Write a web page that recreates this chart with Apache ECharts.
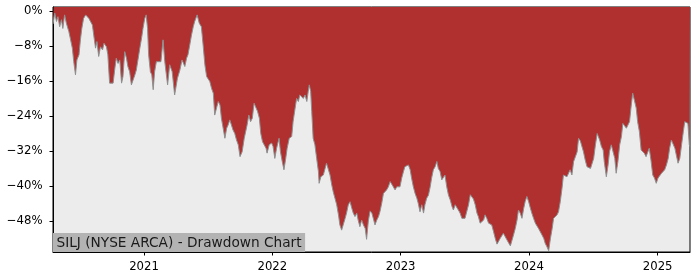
<!DOCTYPE html>
<html>
<head>
<meta charset="utf-8">
<script src="https://cdn.jsdelivr.net/npm/echarts@6/dist/echarts.min.js"></script>
<style>html,body{margin:0;padding:0;background:#fff;}#chart{width:700px;height:280px;}</style>
</head>
<body>
<div id="chart"></div>
<script>
const chartTitle = 'SILJ (NYSE ARCA) - Drawdown Chart';
const yTicks = [0, -8, -16, -24, -32, -40, -48];
const xTickYears = [2021, 2022, 2023, 2024, 2025];
const xRange = ['2020-04-17', '2025-04-03'];
const yRange = [-55.1, 0.9];

const dates = [
'2020-04-17','2020-04-19','2020-04-22','2020-04-27','2020-05-01','2020-05-06','2020-05-11','2020-05-15','2020-05-20','2020-05-25',
'2020-05-30','2020-06-01','2020-06-05','2020-06-11','2020-06-15','2020-06-20','2020-06-24','2020-06-30','2020-07-04','2020-07-08',
'2020-07-13','2020-07-19','2020-07-23','2020-07-28','2020-08-01','2020-08-07','2020-08-12','2020-08-16','2020-08-20','2020-08-25',
'2020-08-30','2020-09-05','2020-09-09','2020-09-16','2020-09-20','2020-09-25','2020-09-30','2020-10-05','2020-10-10','2020-10-14',
'2020-10-19','2020-10-24','2020-10-29','2020-11-02','2020-11-07','2020-11-12','2020-11-16','2020-11-21','2020-11-26','2020-12-01',
'2020-12-06','2020-12-10','2020-12-15','2020-12-20','2020-12-25','2020-12-29',
'2021-01-03','2021-01-07','2021-01-11','2021-01-14','2021-01-19','2021-01-23','2021-01-27','2021-01-31','2021-02-05','2021-02-10',
'2021-02-18','2021-02-24','2021-03-01','2021-03-09','2021-03-15','2021-03-22','2021-03-29','2021-04-06','2021-04-13','2021-04-19',
'2021-04-27','2021-05-02','2021-05-06','2021-05-11','2021-05-16','2021-05-21','2021-05-25','2021-06-01','2021-06-07','2021-06-13',
'2021-06-18','2021-06-23','2021-06-28','2021-07-02','2021-07-07','2021-07-12','2021-07-17','2021-07-21','2021-07-26','2021-07-31',
'2021-08-05','2021-08-09','2021-08-14','2021-08-19','2021-08-24','2021-08-28','2021-09-02','2021-09-07','2021-09-11','2021-09-16',
'2021-09-21','2021-09-26','2021-10-01','2021-10-03','2021-10-07','2021-10-13','2021-10-17','2021-10-21','2021-10-26','2021-10-31',
'2021-11-05','2021-11-10','2021-11-15','2021-11-20','2021-11-25','2021-11-29','2021-12-04','2021-12-08','2021-12-14','2021-12-17',
'2021-12-23','2021-12-30',
'2022-01-03','2022-01-08','2022-01-13','2022-01-20','2022-01-24','2022-01-29','2022-02-03','2022-02-08','2022-02-12','2022-02-18',
'2022-02-25','2022-03-01','2022-03-06','2022-03-11','2022-03-16','2022-03-20','2022-03-25','2022-03-30','2022-04-04','2022-04-09',
'2022-04-13','2022-04-16','2022-04-20','2022-04-23','2022-04-27','2022-05-02','2022-05-07','2022-05-12','2022-05-14','2022-05-19',
'2022-05-26','2022-05-31','2022-06-04','2022-06-09','2022-06-14','2022-06-19','2022-06-23','2022-06-28','2022-07-03','2022-07-08',
'2022-07-12','2022-07-17','2022-07-22','2022-07-27','2022-07-31','2022-08-05','2022-08-10','2022-08-15','2022-08-19','2022-08-24',
'2022-08-29','2022-09-02','2022-09-07','2022-09-12','2022-09-17','2022-09-22','2022-09-26','2022-10-01','2022-10-06','2022-10-11',
'2022-10-15','2022-10-20','2022-10-25','2022-10-30','2022-11-03','2022-11-08','2022-11-13','2022-11-18','2022-11-22','2022-11-27',
'2022-12-02','2022-12-07','2022-12-11','2022-12-16','2022-12-21','2022-12-25','2022-12-30',
'2023-01-04','2023-01-09','2023-01-13','2023-01-18','2023-01-23','2023-01-28','2023-02-01','2023-02-06','2023-02-11','2023-02-16',
'2023-02-20','2023-02-25','2023-03-02','2023-03-07','2023-03-11','2023-03-16','2023-03-21','2023-03-26','2023-03-30','2023-04-04',
'2023-04-09','2023-04-14','2023-04-18','2023-04-23','2023-04-28','2023-05-03','2023-05-07','2023-05-12','2023-05-17','2023-05-22',
'2023-05-27','2023-05-31','2023-06-05','2023-06-10','2023-06-14','2023-06-19','2023-06-24','2023-06-29','2023-07-03','2023-07-08',
'2023-07-13','2023-07-18','2023-07-22','2023-07-27','2023-08-01','2023-08-06','2023-08-10','2023-08-15','2023-08-20','2023-08-25',
'2023-08-29','2023-09-03','2023-09-08','2023-09-13','2023-09-17','2023-09-22','2023-09-27','2023-10-02','2023-10-06','2023-10-11',
'2023-10-16','2023-10-20','2023-10-25','2023-10-30','2023-11-04','2023-11-09','2023-11-13','2023-11-18','2023-11-23','2023-11-28',
'2023-12-02','2023-12-07','2023-12-12','2023-12-17','2023-12-21','2023-12-26','2023-12-31',
'2024-01-05','2024-01-09','2024-01-14','2024-01-19','2024-01-24','2024-01-28','2024-02-02','2024-02-07','2024-02-12','2024-02-16',
'2024-02-21','2024-02-26','2024-03-02','2024-03-07','2024-03-11','2024-03-16','2024-03-21','2024-03-25','2024-03-30','2024-04-04',
'2024-04-08','2024-04-13','2024-04-18','2024-04-23','2024-04-27','2024-05-02','2024-05-07','2024-05-12','2024-05-17','2024-05-21',
'2024-05-26','2024-05-31','2024-06-04','2024-06-09','2024-06-14','2024-06-19','2024-06-24','2024-06-28','2024-07-03','2024-07-08',
'2024-07-13','2024-07-16','2024-07-20','2024-07-25','2024-07-30','2024-08-02','2024-08-08','2024-08-13','2024-08-17','2024-08-22',
'2024-08-27','2024-09-01','2024-09-05','2024-09-10','2024-09-15','2024-09-20','2024-09-24','2024-09-29','2024-10-04','2024-10-09',
'2024-10-13','2024-10-18','2024-10-22','2024-10-27','2024-11-01','2024-11-05','2024-11-10','2024-11-15','2024-11-19','2024-11-24',
'2024-11-29','2024-12-04','2024-12-08','2024-12-13','2024-12-18','2024-12-23','2024-12-28',
'2025-01-02','2025-01-07','2025-01-12','2025-01-16','2025-01-21','2025-01-26','2025-01-31','2025-02-04','2025-02-09','2025-02-14',
'2025-02-19','2025-02-23','2025-02-28','2025-03-05','2025-03-10','2025-03-15','2025-03-19','2025-03-24','2025-03-28','2025-04-01',
'2025-04-03'
];

const drawdown = [
-3.0,-3.2,-0.5,-2.4,-1.3,-3.6,-2.0,-4.0,-0.9,-2.8,
-3.2,-4.7,-6.2,-8.5,-11.6,-14.6,-11.2,-10.0,-6.6,-4.0,
-1.7,-0.9,-0.5,-1.7,-1.3,-3.2,-6.2,-8.5,-7.0,-10.4,
-8.2,-8.9,-7.4,-8.2,-10.0,-16.5,-16.9,-16.5,-13.1,-10.8,
-12.0,-11.2,-16.5,-15.0,-9.3,-10.8,-12.7,-13.9,-16.9,-16.9,
-14.6,-13.5,-13.9,-8.5,-6.2,-4.0,
-1.7,-0.9,-4.0,-10.0,-13.9,-14.6,-18.0,-13.9,-11.6,-12.0,
-11.6,-6.6,-11.6,-16.9,-12.3,-13.9,-19.2,-15.4,-13.5,-11.2,
-12.7,-10.8,-10.0,-7.8,-5.5,-3.6,-2.4,-0.9,-2.8,-3.6,
-7.8,-12.3,-15.0,-15.4,-16.1,-17.7,-18.8,-23.8,-23.8,-20.7,
-21.5,-24.5,-24.9,-29.1,-26.8,-26.1,-24.9,-25.3,-27.2,-28.0,
-29.5,-30.6,-33.3,-33.7,-32.2,-29.1,-27.6,-26.1,-23.8,-25.3,
-24.5,-21.1,-20.7,-23.0,-24.5,-28.0,-29.9,-30.2,-31.4,-32.5,
-30.6,-30.2,
-31.0,-33.7,-31.4,-29.1,-32.2,-34.4,-36.3,-33.7,-31.4,-29.1,
-28.7,-25.3,-22.6,-20.0,-20.7,-19.2,-18.8,-20.0,-19.2,-20.7,
-18.4,-16.9,-18.4,-23.0,-29.1,-30.6,-33.7,-36.7,-39.4,-37.9,
-37.5,-36.0,-34.8,-35.2,-37.5,-39.8,-41.3,-42.8,-44.3,-46.6,
-48.9,-50.1,-49.7,-47.4,-46.2,-44.3,-43.6,-45.1,-46.2,-47.0,
-46.2,-47.8,-49.3,-47.8,-48.9,-49.7,-52.2,-48.0,-45.7,-46.2,
-47.4,-48.9,-47.8,-47.0,-45.9,-44.0,-41.7,-42.1,-40.9,-40.2,
-39.0,-39.4,-40.2,-40.9,-40.2,-39.8,-40.2,
-38.2,-36.7,-35.6,-36.0,-35.2,-36.3,-38.2,-40.2,-41.7,-42.8,
-44.0,-45.9,-44.3,-46.2,-44.3,-42.8,-42.1,-40.2,-38.2,-36.3,
-35.6,-34.4,-36.0,-36.7,-38.6,-38.2,-37.5,-40.2,-42.1,-43.2,
-44.7,-45.5,-44.3,-44.7,-45.5,-46.2,-47.4,-47.8,-47.4,-47.8,
-44.3,-42.0,-42.1,-43.0,-44.3,-46.2,-47.0,-48.5,-48.9,-47.8,
-46.6,-47.4,-48.5,-48.2,-48.9,-50.4,-52.0,-53.3,-53.5,-52.0,
-51.6,-50.8,-51.2,-52.3,-52.0,-53.7,-53.9,-51.2,-49.7,-47.8,
-45.5,-46.2,-47.4,-45.1,-43.6,-42.4,-43.6,
-45.1,-46.2,-47.4,-48.5,-48.9,-49.7,-50.1,-51.2,-52.0,-53.1,
-53.9,-54.8,-52.0,-49.7,-47.4,-47.0,-46.6,-45.9,-43.6,-40.5,
-37.5,-37.5,-37.9,-37.5,-36.3,-37.5,-34.4,-33.3,-32.2,-29.1,
-29.7,-29.9,-32.2,-34.1,-35.6,-35.2,-36.0,-36.3,-33.7,-30.6,
-28.0,-27.6,-29.5,-31.0,-31.8,-34.4,-37.9,-35.2,-32.2,-30.6,
-31.0,-33.7,-37.1,-34.4,-30.6,-28.7,-25.7,-25.3,-26.8,-27.2,
-25.3,-21.5,-18.8,-19.2,-22.2,-25.3,-27.6,-31.8,-32.2,-32.5,
-33.3,-32.9,-31.4,-34.1,-37.5,-38.2,-39.4,
-38.2,-37.9,-37.1,-36.7,-36.3,-35.2,-33.7,-31.4,-29.5,-29.9,
-31.4,-32.9,-34.8,-33.7,-30.6,-27.6,-25.3,-24.9,-25.7,-30.6,
-31.0
];

const FONT = 'DejaVu Sans';
function toTime(s) {
  const p = s.split('-');
  return new Date(+p[0], +p[1] - 1, +p[2]).getTime();
}
const xTickValues = xTickYears.map(y => new Date(y, 0, 1).getTime());
const seriesData = dates.map((d, i) => [toTime(d), drawdown[i]]);

const chart = echarts.init(document.getElementById('chart'), null, {renderer: 'canvas'});
chart.setOption({
  animation: false,
  backgroundColor: '#ffffff',
  title: {
    text: chartTitle,
    left: 53,
    top: 233,
    padding: [3, 3.5, 2, 3.5],
    backgroundColor: '#b3b3b3',
    textStyle: {fontFamily: FONT, fontSize: 13.7, fontWeight: 'normal', color: '#1a1a1a', lineHeight: 14}
  },
  grid: {
    left: 53, right: 10, top: 7, bottom: 28,
    show: true, backgroundColor: '#ececec', borderColor: '#000', borderWidth: 1
  },
  xAxis: {
    type: 'value',
    min: toTime(xRange[0]), max: toTime(xRange[1]),
    axisLine: {show: true, onZero: false, lineStyle: {color: '#000', width: 1}},
    axisTick: {show: true, inside: false, length: 3.5, lineStyle: {color: '#000', width: 1},
      customValues: xTickValues},
    axisLabel: {show: true, margin: 9, color: '#000', fontFamily: FONT, fontSize: 11.7,
      customValues: xTickValues,
      formatter: v => String(new Date(v).getFullYear())},
    splitLine: {show: false}
  },
  yAxis: {
    type: 'value',
    min: yRange[0], max: yRange[1],
    axisLine: {show: true, lineStyle: {color: '#000', width: 1}},
    axisTick: {show: true, inside: false, length: 3.5, lineStyle: {color: '#000', width: 1}, customValues: yTicks},
    axisLabel: {show: true, margin: 10.5, color: '#000', fontFamily: FONT, fontSize: 11.7, customValues: yTicks,
      formatter: v => (v === 0 ? '0%' : '\u2212' + Math.abs(v) + '%')},
    splitLine: {show: false}
  },
  series: [{
    type: 'line',
    data: seriesData,
    showSymbol: false,
    symbol: 'none',
    clip: true,
    lineStyle: {color: '#8f8f8f', width: 1},
    areaStyle: {color: '#b03030', opacity: 1, origin: 'end'},
    z: 2
  }]
});
</script>
</body>
</html>
